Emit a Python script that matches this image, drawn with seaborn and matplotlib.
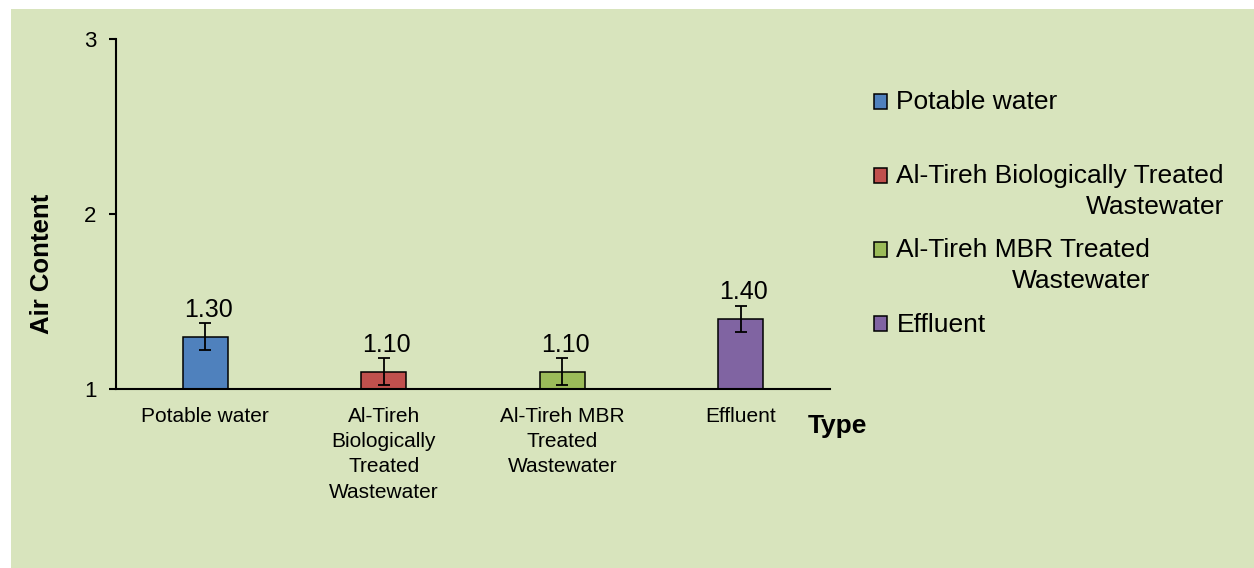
import seaborn as sns
import matplotlib.pyplot as plt
from matplotlib.patches import Rectangle, Patch

# data
categories = ["Potable water", "Al-Tireh Biologically Treated Wastewater",
              "Al-Tireh MBR Treated Wastewater", "Effluent"]
tick_labels = ["Potable water", "Al-Tireh\nBiologically\nTreated\nWastewater",
               "Al-Tireh MBR\nTreated\nWastewater", "Effluent"]
legend_labels = ["Potable water\n", "Al-Tireh Biologically Treated\nWastewater",
                 "Al-Tireh MBR Treated\nWastewater", "Effluent"]
values = [1.30, 1.10, 1.10, 1.40]
errors = [0.075, 0.075, 0.075, 0.075]
colors = ["#4F81BD", "#C0504D", "#9BBB59", "#8064A2"]
bg = "#D8E4BD"

plt.rcParams["font.family"] = ["Liberation Sans", "DejaVu Sans"]

fig = plt.figure(figsize=(12.54, 5.68), dpi=100)
fig.patch.set_facecolor("white")
fig.patches.append(Rectangle((11 / 1254, 0), 1 - 11 / 1254, 1 - 9 / 568,
                             transform=fig.transFigure, facecolor=bg,
                             edgecolor="none", zorder=-10))

ax = fig.add_axes([116 / 1254, 179 / 568, 714 / 1254, 350 / 568])
ax.set_facecolor("none")

sns.barplot(x=categories, y=values, hue=categories, palette=colors,
            saturation=1, width=0.25, edgecolor="black", linewidth=1.1,
            errorbar=None, legend=False, ax=ax)
ax.errorbar(range(len(values)), values, yerr=errors, fmt="none",
            ecolor="black", elinewidth=1.3, capsize=4.3, capthick=1.3)

for i, (v, e) in enumerate(zip(values, errors)):
    ax.annotate(f"{v:.2f}", (i, v + e), xytext=(2, 1), textcoords="offset points",
                ha="center", va="bottom", fontsize=18)

ax.set_ylim(1, 3)
ax.set_xlim(-0.5, 3.5)
ax.set_yticks([1, 2, 3])
ax.set_yticklabels(["1", "2", "3"], fontsize=16)
ax.set_xticks(range(len(categories)))
ax.set_xticklabels(tick_labels, fontsize=15, linespacing=1.41)
ax.tick_params(axis="x", length=0, pad=13)
ax.tick_params(axis="y", length=5, width=1.5, pad=9, direction="out")
ax.set_xlabel("")
ax.set_ylabel("")
for s in ["top", "right"]:
    ax.spines[s].set_visible(False)
for s in ["left", "bottom"]:
    ax.spines[s].set_linewidth(1.5)

fig.text(42 / 1254, 1 - 264 / 568, "Air Content", rotation=90, ha="center",
         va="center", fontsize=18.5, fontweight="bold")
fig.text(808 / 1254, 1 - 426 / 568, "Type", ha="left", va="center",
         fontsize=19, fontweight="bold")

handles = [Patch(facecolor=c, edgecolor="black", linewidth=1.1) for c in colors]
leg = ax.legend(handles, legend_labels, loc="upper left",
                bbox_to_anchor=(874 / 1254, 1 - 90 / 568),
                bbox_transform=fig.transFigure, frameon=False, fontsize=19,
                handlelength=0.5, handleheight=0.5, handletextpad=0.35,
                labelspacing=0.74, borderpad=0, borderaxespad=0)
# Excel-style legend: marker beside the first line, wrapped lines right aligned
for t in leg.get_texts():
    t.set_multialignment("right")
    t.set_linespacing(1.35)
for col in leg._legend_handle_box.get_children():
    for item in col.get_children():
        item.align = "top"
for p in leg.get_patches():
    p.set_y(p.get_y() - 2.7)

fig.savefig("out.png", dpi=100)
